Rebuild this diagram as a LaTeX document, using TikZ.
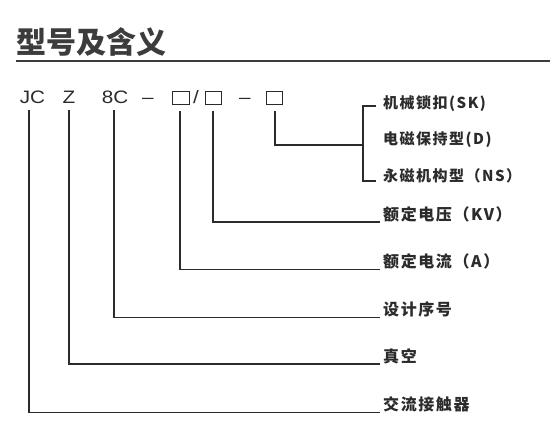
\documentclass[tikz,border=0pt]{standalone}
\usepackage{fontspec}
\setmainfont{Liberation Sans}
\newfontfamily\cjk[LetterSpace=10]{Noto Sans CJK SC}
\newfontfamily\cjktitle{Noto Sans CJK SC}
\usetikzlibrary{positioning}
\definecolor{ink}{HTML}{2B2B2B}
\definecolor{headgray}{HTML}{3C3C3C}

\begin{document}
\begin{tikzpicture}[
  x=1pt, y=-1pt,
  code/.style={inner sep=0pt, anchor=base, text=ink, font=\addfontfeature{FakeStretch=1.15}\fontsize{18}{18}\selectfont},
  slot/.style={rectangle, draw=ink, line width=1pt, minimum width=16.5pt, minimum height=12.5pt, inner sep=0pt},
  note/.style={anchor=south west, inner xsep=3pt, inner ysep=0pt, text=ink, font=\cjk\bfseries\fontsize{16}{16}\selectfont},
  subnote/.style={anchor=west, inner xsep=3pt, inner ysep=0pt, text=ink, font=\cjk\bfseries\fontsize{15}{15}\selectfont},
  link/.style={draw=ink, line width=1.8pt}
]
\useasboundingbox (0,0) rectangle (550,425);

\node[anchor=west, inner sep=0pt, text=headgray, font=\cjktitle\bfseries\fontsize{30}{30}\selectfont] (title) at (16,42) {型号及含义};
\coordinate (ruleend) at (550,61);
\draw[draw=headgray, line width=2.4pt] (title.west |- ruleend) -- (ruleend);

\node[code] (jc) at (32.5,103.5) {JC};
\node[code] (z) at (69,103.5) {Z};
\node[code] (dc) at (115,103.5) {8C};
\node[code] (d1) at (148,103.5) {–};
\node[slot] (b1) at (181,98) {};
\node[code] (sl) at (196,103.5) {/};
\node[slot] (b2) at (213.5,98) {};
\node[code] (d2) at (245,103.5) {–};
\node[slot] (b3) at (274.5,98) {};

\node[subnote] (sk) at (380,104) {机械锁扣(SK)};
\node[subnote] (dd) at (380,140) {电磁保持型(D)};
\node[subnote] (ns) at (380,176) {永磁机构型（NS）};
\node[note] (kv) at (380,222) {额定电压（KV）};
\node[note] (amp) at (380,269.5) {额定电流（A）};
\node[note] (seq) at (380,317.5) {设计序号};
\node[note] (vac) at (380,364) {真空};
\node[note] (ac) at (380,412.5) {交流接触器};
\coordinate (spine) at (363,145);

\draw[link] ([xshift=-3.5pt,yshift=-6.5pt]jc.south) |- (ac.south west);
\draw[link] ([yshift=-6.5pt]z.south) |- (vac.south west);
\draw[link] ([xshift=-1pt,yshift=-6.5pt]dc.south) |- (seq.south west);
\draw[link] ([xshift=-1pt,yshift=-6pt]b1.south) |- (amp.south west);
\draw[link] ([xshift=-0.5pt,yshift=-6pt]b2.south) |- (kv.south west);
\draw[link] ([xshift=0.5pt,yshift=-6pt]b3.south) |- (spine);
\draw[link] ([xshift=-4pt,yshift=-2pt]sk.west) -| (spine) |- ([xshift=-4pt,yshift=-5pt]ns.west);
\end{tikzpicture}
\end{document}
